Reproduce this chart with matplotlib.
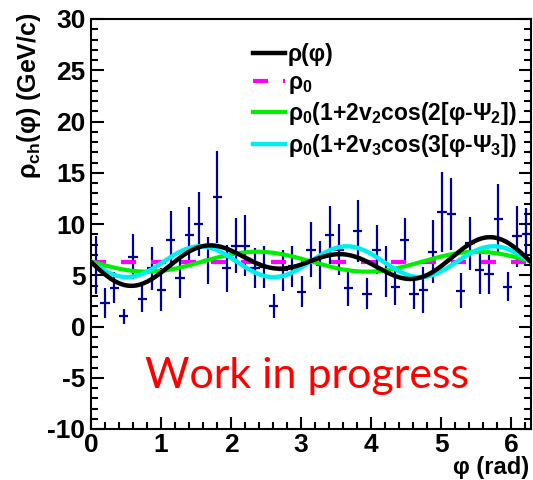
import numpy as np
import matplotlib
matplotlib.use("Agg")
import matplotlib.pyplot as plt

plt.rcParams['font.family'] = ['Liberation Sans', 'DejaVu Sans']
plt.rcParams['mathtext.default'] = 'regular'
plt.rcParams['axes.unicode_minus'] = False

# measured charged density per phi bin (47 bins over 0..2pi)
n_bins = 47
rho_vals = [6.0, 2.3, 3.8, 1.0, 6.8, 2.7, 5.7, 3.6, 8.4, 4.7, 8.9, 10.0,
            6.45, 12.6, 5.7, 7.9, 7.9, 5.7, 5.8, 2.0, 5.5, 5.9, 3.4, 7.5,
            6.0, 8.9, 7.5, 3.8, 9.3, 3.2, 7.5, 5.4, 3.9, 8.4, 3.2,
            3.6, 7.3, 11.2, 11.0, 3.5, 8.1, 5.5, 5.1, 10.5, 3.9, 8.8, 9.0]
rho_errs = [2.8, 1.5, 1.5, 0.75, 2.2, 1.3, 2.1, 2.1, 2.9, 1.9, 2.8, 3.1,
            2.3, 4.5, 2.3, 2.7, 3.0, 1.95, 2.05, 1.2, 2.0, 2.0, 1.5, 2.7,
            2.3, 2.85, 2.5, 1.8, 3.0, 1.5, 2.4, 2.5, 1.8, 2.2, 1.5,
            2.25, 3.1, 3.9, 3.5, 1.7, 2.6, 2.3, 1.9, 3.4, 1.4, 3.0, 2.6]

# fit parameters
rho0 = 6.32
v2, psi2 = 0.077, 2.37
v3, psi3 = 0.119, 1.56

edges = np.linspace(0, 2 * np.pi, n_bins + 1)
centers = 0.5 * (edges[:-1] + edges[1:])
half_w = 0.5 * (edges[1] - edges[0])

phi = np.linspace(0, 2 * np.pi, 400)
flow2 = rho0 * (1 + 2 * v2 * np.cos(2 * (phi - psi2)))
flow3 = rho0 * (1 + 2 * v3 * np.cos(3 * (phi - psi3)))
full = rho0 * (1 + 2 * v2 * np.cos(2 * (phi - psi2)) + 2 * v3 * np.cos(3 * (phi - psi3)))

fig = plt.figure(figsize=(5.33, 4.8), dpi=100)
ax = fig.add_axes([91 / 533, 1 - 429 / 480, 440 / 533, 410 / 480])

ax.errorbar(centers, rho_vals, yerr=rho_errs, xerr=half_w, fmt='none',
            ecolor='#000099', elinewidth=1.6, capsize=0, zorder=2)

l1, = ax.plot(phi, full, color='black', lw=3.2, zorder=5, label=r'ρ(φ)')
l0, = ax.plot(phi, np.full_like(phi, rho0), color='#ff00ff', lw=3,
              linestyle=(0, (3.6, 3.6)), zorder=3, label=r'ρ$_0$')
lg, = ax.plot(phi, flow2, color='#00ee00', lw=3, zorder=3,
              label=r'ρ$_0$(1+2v$_2$cos(2[φ-Ψ$_2$])')
lc, = ax.plot(phi, flow3, color='#00eeee', lw=3.2, zorder=4,
              label=r'ρ$_0$(1+2v$_3$cos(3[φ-Ψ$_3$])')

ax.set_xlim(0, 2 * np.pi)
ax.set_ylim(-10, 30)
ax.set_xticks(np.arange(0, 7, 1))
ax.set_xticks(np.arange(0, 6.3, 0.2), minor=True)
ax.set_yticks(np.arange(-10, 31, 5))
ax.set_yticks(np.arange(-10, 31, 1), minor=True)
ax.tick_params(which='both', direction='in', right=True, top=False,
               width=1.5, labelsize=19)
ax.tick_params(which='major', length=9)
ax.tick_params(which='minor', length=5)
ax.tick_params(axis='x', pad=3)
ax.tick_params(axis='y', pad=4)
for lab in ax.get_xticklabels() + ax.get_yticklabels():
    lab.set_fontweight('bold')
for sp in ax.spines.values():
    sp.set_linewidth(1.5)

ax.set_xlabel('φ (rad)', fontsize=17, fontweight='bold')
ax.xaxis.set_label_coords(0.995, -0.095)
ax.xaxis.label.set_ha('right')
ax.xaxis.label.set_va('center')
ax.set_ylabel(r'ρ$_{ch}$(φ) (GeV/c)', fontsize=18, fontweight='bold')
ax.yaxis.set_label_coords(-0.14, 1.015)
ax.yaxis.label.set_ha('right')
ax.yaxis.label.set_va('center')

leg = ax.legend(handles=[l1, l0, lg, lc], loc='upper left',
                bbox_to_anchor=(253 / 533, 1 - 43 / 480), bbox_transform=fig.transFigure,
                frameon=False, fontsize=16.5, handlelength=1.4, handletextpad=0.12,
                labelspacing=0.2, borderpad=0, borderaxespad=0)
for t in leg.get_texts():
    t.set_fontweight('bold')

ax.text(3.09, -4.8, 'Work in progress', color='red', fontsize=31,
        fontfamily='Lato', ha='center', va='center')

fig.savefig('out.png', dpi=100)
